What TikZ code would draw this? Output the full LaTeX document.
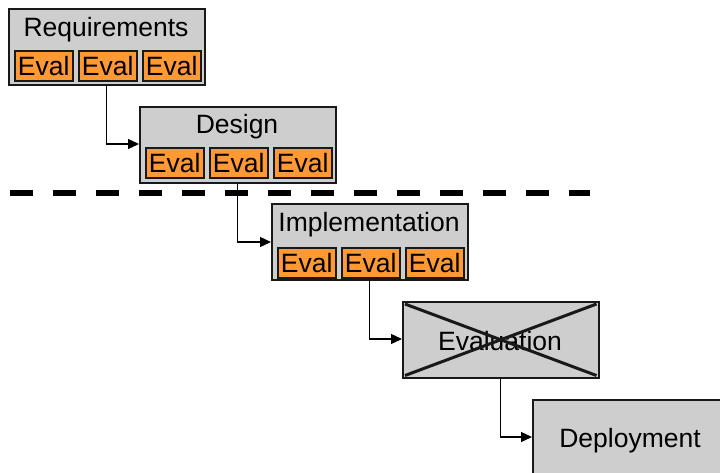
\documentclass[tikz,border=0pt]{standalone}
\usepackage{fontspec}
\setmainfont{Liberation Sans}
\usetikzlibrary{arrows.meta}
\definecolor{boxgray}{RGB}{206,206,206}
\definecolor{evalorange}{RGB}{255,153,51}
\definecolor{edge}{RGB}{25,25,25}
\begin{document}
\begin{tikzpicture}[x=1pt,y=-1pt,
  phase/.style={draw=edge, fill=boxgray, line width=1.5pt, minimum width=196pt, minimum height=76pt, inner sep=0pt, anchor=north west},
  evalbox/.style={draw=edge, fill=evalorange, line width=1.5pt, minimum width=58pt, minimum height=30pt, inner sep=0pt, text height=19pt, text depth=0pt, font=\fontsize{26.5}{26.5}\selectfont, anchor=north west},
  titletext/.style={font=\fontsize{26.5}{26.5}\selectfont, inner sep=0pt, anchor=base},
  flow/.style={line width=1.3pt, black, -{Triangle[length=11pt,width=10pt]}},
  cross/.style={line width=3pt, edge}]
\useasboundingbox (0,0) rectangle (720,472);
\clip (0,0) rectangle (720,472);
\fill[white] (0,0) rectangle (720,472);

% Requirements
\node[phase] (req) at (8,8) {};
\node[titletext] (reqt) at (106,36) {Requirements};
\node[evalbox] (re1) at (14,50) {Eval};
\node[evalbox] (re2) at (78,50) {Eval};
\node[evalbox] (re3) at (142,50) {Eval};

% Design
\node[phase] (des) at (139,106) {};
\node[titletext] (dest) at (237,133) {Design};
\node[evalbox] (de1) at (145,147) {Eval};
\node[evalbox] (de2) at (209,147) {Eval};
\node[evalbox] (de3) at (273,147) {Eval};

% Dashed separator
\coordinate (sepL) at (10,193);
\coordinate (sepR) at (590,193);
\draw[line width=5.5pt, dash pattern=on 23pt off 20pt, black] (sepL) -- (sepR);

% Implementation
\node[phase] (imp) at (271,203) {};
\node[titletext] (impt) at (369,231) {Implementation};
\node[evalbox] (ie1) at (277,247) {Eval};
\node[evalbox] (ie2) at (341,247) {Eval};
\node[evalbox] (ie3) at (405,247) {Eval};

% Evaluation (crossed out)
\node[phase] (eva) at (402,301) {};
\node[titletext] (evat) at (500,350) {Evaluation};
\draw[cross] ([shift={(3pt,-3pt)}]eva.north west) -- ([shift={(-3pt,3pt)}]eva.south east);
\draw[cross] ([shift={(-3pt,-3pt)}]eva.north east) -- ([shift={(3pt,3pt)}]eva.south west);

% Deployment
\node[phase] (dep) at (532,399) {};
\node[titletext] (dept) at (630,447) {Deployment};

% Connectors
\draw[flow] (req.south) |- (des.west |- 0,144);
\draw[flow] (des.south) |- (imp.west |- 0,242);
\draw[flow] (imp.south) |- (eva.west |- 0,339);
\draw[flow] (eva.south) |- (dep.west |- 0,437);
\end{tikzpicture}
\end{document}
